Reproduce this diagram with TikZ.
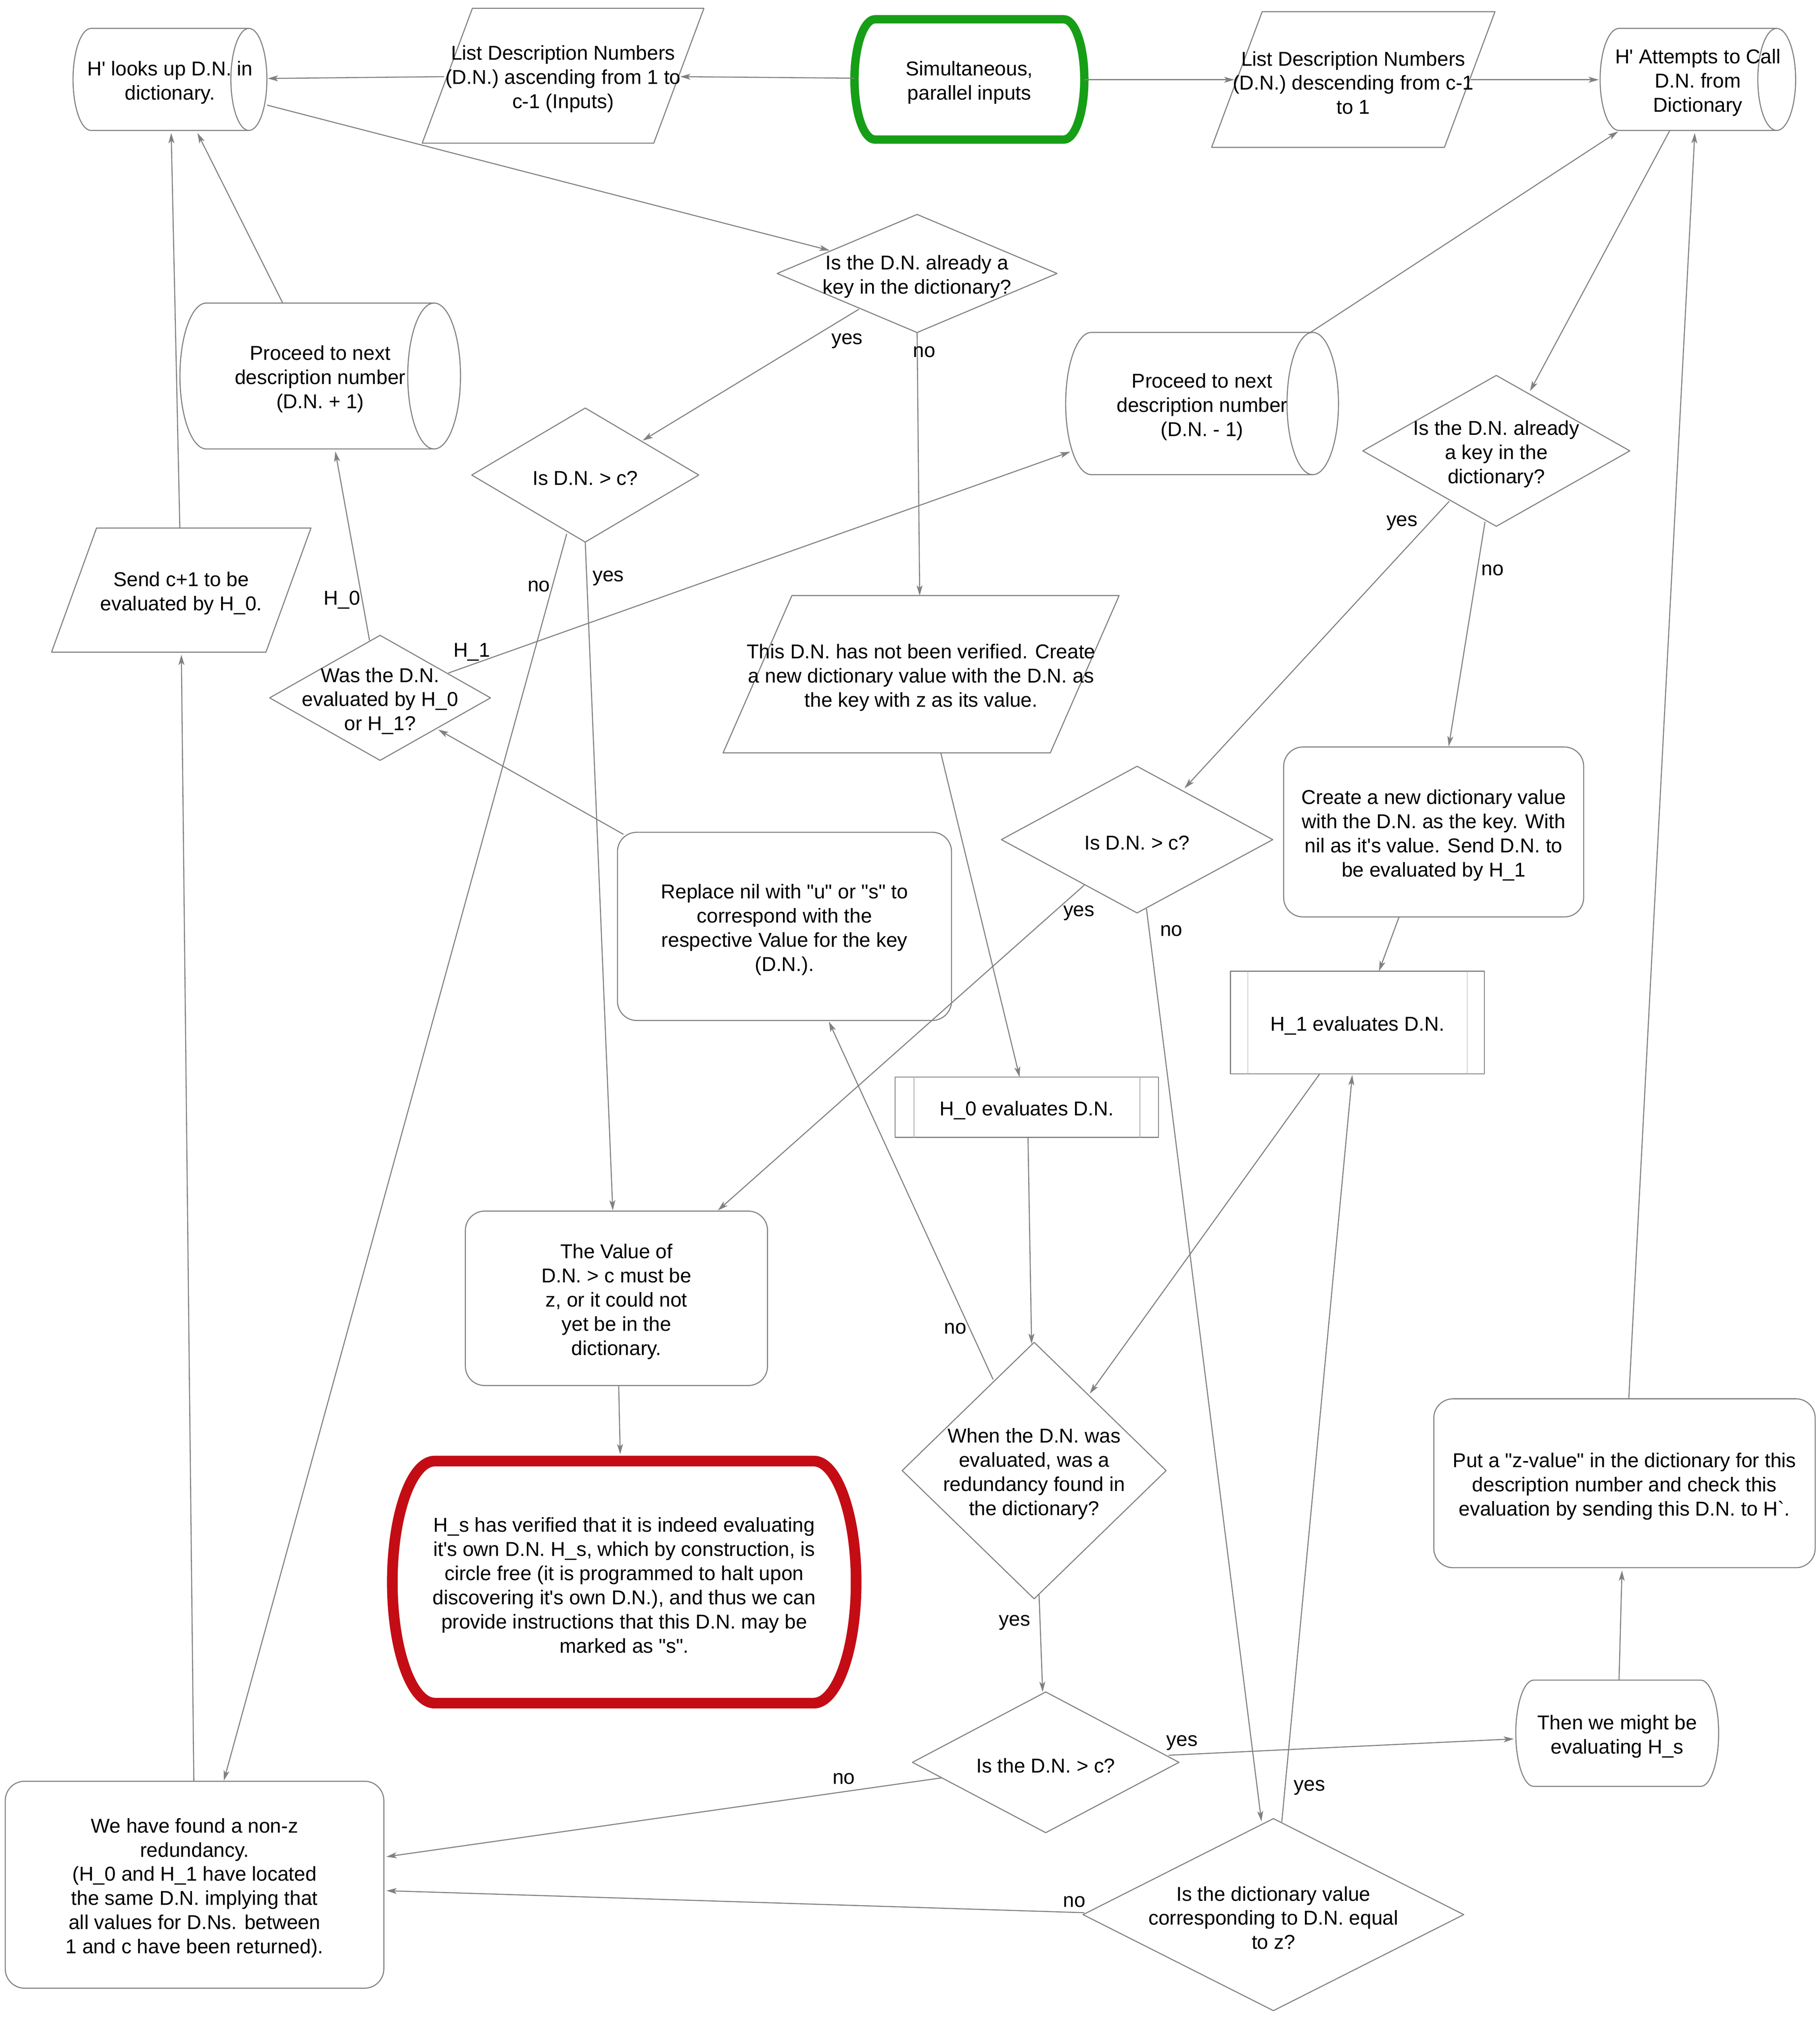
\documentclass[tikz,border=0pt]{standalone}
\usepackage{fontspec}
\setmainfont{Liberation Sans}
\usetikzlibrary{shapes.geometric,arrows.meta,calc}
\definecolor{lc}{RGB}{128,128,128}
\definecolor{ilc}{RGB}{170,170,170}
\definecolor{tgreen}{RGB}{22,158,22}
\definecolor{tred}{RGB}{196,12,20}
\newcommand\dfont{\fontsize{15.6}{18.8}\selectfont}
\newcommand\apos{\textquotesingle}
\newcommand\grv{\textasciigrave}
\newcommand\dq{\textquotedbl}
\tikzset{
  shp/.style={draw=lc, line width=0.8pt, line join=round},
  txt/.style={font=\dfont, align=center, inner sep=0pt, yshift=-2.5pt},
  frame/.style={rectangle, inner sep=0pt, outer sep=0pt},
  dia/.style={shp, diamond, inner sep=0pt, outer sep=0pt},
  box/.style={shp, rectangle, rounded corners=15pt, inner sep=0pt},
  pbox/.style={shp, rectangle, inner sep=0pt},
  inl/.style={draw=ilc, line width=0.6pt},
  conn/.style={draw=lc, line width=0.8pt, -{Stealth[length=8pt,width=4.6pt,inset=2pt]}},
  lbl/.style={font=\dfont, inner sep=0pt, yshift=-2pt},
}
% cylinder: name, xl, xr, yt, yb, rx, ry, text
\newcommand\cyl[8]{%
  \draw[shp] ({#2+#6},#5) arc[start angle=270,end angle=90,x radius=#6pt,y radius=#7pt]
     -- ({#3-#6},#4) arc[start angle=90,end angle=-90,x radius=#6pt,y radius=#7pt] -- cycle;
  \draw[shp] ({#3-#6},#4) arc[start angle=90,end angle=270,x radius=#6pt,y radius=#7pt];
  \node[frame, minimum width={(#3-#2)*1pt}, minimum height={(#5-#4)*1pt}] (#1) at ({(#2+#3)/2},{(#4+#5)/2}) {};
  \node[txt] (#1t) at (#1) {#8};
}
% parallelogram: name, cx, cy, side width, height, slant, text
\newcommand\para[7]{%
  \draw[shp] ({#2-#4/2+#6/2},{#3-#5/2}) -- ({#2+#4/2+#6/2},{#3-#5/2})
     -- ({#2+#4/2-#6/2},{#3+#5/2}) -- ({#2-#4/2-#6/2},{#3+#5/2}) -- cycle;
  \node[frame, minimum width={(#4+#6)*1pt}, minimum height={#5*1pt}] (#1) at (#2,#3) {};
  \node[txt] (#1t) at (#1) {#7};
}
% terminator: name, cx, cy, w, h, rx, ry, style, text
\newcommand\term[9]{%
  \draw[#8] ({#2-#4/2+#6},{#3-#5/2}) -- ({#2+#4/2-#6},{#3-#5/2})
     arc[start angle=90,end angle=-90,x radius=#6pt,y radius=#7pt]
     -- ({#2-#4/2+#6},{#3+#5/2})
     arc[start angle=270,end angle=90,x radius=#6pt,y radius=#7pt] -- cycle;
  \node[frame, minimum width={#4*1pt}, minimum height={#5*1pt}] (#1) at (#2,#3) {};
  \node[txt] (#1t) at (#1) {#9};
}
\begin{document}
\begin{tikzpicture}[x=1pt,y=-1pt]
\fill[white] (0,0) rectangle (1414.8,1568);
\useasboundingbox (0,0) rectangle (1414.8,1568);

% ---------- shapes ----------
\cyl{A}{56.8}{207.5}{22.1}{101.4}{14}{39.65}{H\apos{} looks up D.N. in\\dictionary.}
\para{PGa}{437.75}{58.9}{180}{104.8}{39}{List Description Numbers\\(D.N.) ascending from 1 to\\c-1 (Inputs)}
\term{G}{753.65}{61.75}{178.7}{93.5}{16}{46.75}{draw=tgreen, line width=6.5pt, line join=round}{Simultaneous,\\parallel inputs}
\para{PGb}{1052.1}{61.85}{181}{105.5}{39.3}{List Description Numbers\\(D.N.) descending from c-1\\to 1}
\cyl{B}{1244}{1396}{22.1}{101.4}{14.7}{39.65}{H\apos{} Attempts to Call\\D.N. from\\Dictionary}

\node[dia, minimum width=217.6pt, minimum height=91.8pt] (D1) at (713,212.6) {};
\node[txt] (D1t) at (D1) {Is the D.N. already a\\key in the dictionary?};

\cyl{C1}{139.9}{358}{235.6}{349}{20.5}{56.7}{Proceed to next\\description number\\(D.N. + 1)}
\cyl{C2}{828.5}{1040.6}{258.4}{369}{20}{55.3}{Proceed to next\\description number\\(D.N. - 1)}

\node[dia, minimum width=176.5pt, minimum height=104.2pt] (D2) at (455,369.3) {};
\node[txt] (D2t) at (D2) {Is D.N. > c?};

\node[dia, minimum width=207.6pt, minimum height=117.3pt] (D4) at (1163.3,350.5) {};
\node[txt] (D4t) at (D4) {Is the D.N. already\\a key in the\\dictionary?};

\para{PGc}{140.9}{458.75}{166.7}{96.5}{35}{Send c+1 to be\\evaluated by H\_0.}
\para{PGd}{716.1}{524.15}{254.4}{122.3}{53.5}{This D.N. has not been verified. Create\\a new dictionary value with the D.N. as\\the key with z as its value.}

\node[dia, minimum width=171.7pt, minimum height=97.2pt] (D3) at (295.5,542.5) {};
\node[txt] (D3t) at (D3) {Was the D.N.\\evaluated by H\_0\\or H\_1?};

\node[box, minimum width=233.2pt, minimum height=132.1pt] (R2) at (1114.6,646.75) {};
\node[txt] (R2t) at (R2) {Create a new dictionary value\\with the D.N. as the key. With\\nil as it\apos s value. Send D.N. to\\be evaluated by H\_1};

\node[dia, minimum width=211pt, minimum height=114pt] (D5) at (884,652.7) {};
\node[txt] (D5t) at (D5) {Is D.N. > c?};

\node[box, minimum width=259.7pt, minimum height=146.3pt] (R1) at (609.9,720.15) {};
\node[txt] (R1t) at (R1) {Replace nil with \dq u\dq{} or \dq s\dq{} to\\correspond with the\\respective Value for the key\\(D.N.).};

\node[pbox, minimum width=197.4pt, minimum height=79.9pt] (P2) at (1055.4,794.85) {};
\node[txt] (P2t) at (P2) {H\_1 evaluates D.N.};
\draw[inl] ([xshift=13.8pt]P2.north west) -- ([xshift=13.8pt]P2.south west);
\draw[inl] ([xshift=-13.8pt]P2.north east) -- ([xshift=-13.8pt]P2.south east);

\node[pbox, minimum width=204.8pt, minimum height=46.8pt] (P1) at (798.3,860.7) {};
\node[txt] (P1t) at (P1) {H\_0 evaluates D.N.};
\draw[inl] ([xshift=15pt]P1.north west) -- ([xshift=15pt]P1.south west);
\draw[inl] ([xshift=-15pt]P1.north east) -- ([xshift=-15pt]P1.south east);

\node[box, minimum width=234.9pt, minimum height=135.6pt] (R3) at (479.25,1009.3) {};
\node[txt] (R3t) at (R3) {The Value of\\D.N. > c must be\\z, or it could not\\yet be in the\\dictionary.};

\node[dia, minimum width=205.2pt, minimum height=199.4pt] (D6) at (804,1143.2) {};
\node[txt] (D6t) at (D6) {When the D.N. was\\evaluated, was a\\redundancy found in\\the dictionary?};

\node[box, minimum width=296.5pt, minimum height=131.3pt] (R4) at (1262.95,1153.05) {};
\node[txt] (R4t) at (R4) {Put a \dq z-value\dq{} in the dictionary for this\\description number and check this\\evaluation by sending this D.N. to H\grv.};

\term{Red}{485.3}{1229.9}{360.6}{188.2}{33}{94.1}{draw=tred, line width=8.3pt, line join=round}{H\_s has verified that it is indeed evaluating\\it\apos s own D.N. H\_s, which by construction, is\\circle free (it is programmed to halt upon\\discovering it\apos s own D.N.), and thus we can\\provide instructions that this D.N. may be\\marked as \dq s\dq.}

\term{T}{1257.3}{1347.4}{157.7}{82.6}{14}{41.3}{shp}{Then we might be\\evaluating H\_s}

\node[dia, minimum width=207.2pt, minimum height=109.4pt] (D7) at (813,1370) {};
\node[txt] (D7t) at (D7) {Is the D.N. > c?};

\node[box, minimum width=294.3pt, minimum height=160.9pt] (R5) at (151.25,1465.15) {};
\node[txt] (R5t) at (R5) {We have found a non-z\\redundancy.\\(H\_0 and H\_1 have located\\the same D.N. implying that\\all values for D.Ns. between\\1 and c have been returned).};

\node[dia, minimum width=296pt, minimum height=149.3pt] (D8) at (990,1488.4) {};
\node[txt] (D8t) at (D8) {Is the dictionary value\\corresponding to D.N. equal\\to z?};

% ---------- connectors ----------
\draw[conn] ($(G)+(-89.4,-0.95)$) -- ($(PGa)+(91,0.7)$);
\draw[conn] ($(PGa)+(-92.5,0.7)$) -- ($(A)+(76,-0.75)$);
\draw[conn] ($(G)+(89.35,0.25)$) -- ($(PGb)+(-92.4,0.15)$);
\draw[conn] ($(PGb)+(91.4,0.15)$) -- ($(B)+(-77,0.25)$);
\draw[conn] ($(A)+(75.45,19.95)$) -- ($(D1)+(-68,-17.9)$);
\draw[conn] ($(D1)+(-45.3,27.8)$) -- ($(D2)+(44.6,-26.8)$);
\draw[conn] (D1.south) -- ($(PGd)+(-1.1,-61.15)$);
\draw[conn] ($(D2)+(-14.4,45.7)$) -- ($(R5)+(22.75,-80.9)$);
\draw[conn] (D2.south) -- ($(R3)+(-2.85,-68.3)$);
\draw[conn] ($(D3)+(-8.2,-44.6)$) -- ($(C1)+(11.75,58.7)$);
\draw[conn] ($(D3)+(53.1,-19.3)$) -- ($(C2)+(-102.45,37.5)$);
\draw[conn] ($(C1)+(-29.15,-56.7)$) -- ($(A)+(21.35,41.65)$);
\draw[conn] ($(PGc)+(-1.1,-48.25)$) -- ($(A)+(0.95,41.65)$);
\draw[conn] ($(R5)+(-0.55,-80.45)$) -- ($(PGc)+(0.1,50.25)$);
\draw[conn] ($(R1)+(-125.2,-71.55)$) -- ($(D3)+(45.2,24.7)$);
\draw[conn] ($(PGd)+(15.3,61.15)$) -- ($(P1)+(-5.6,-23.4)$);
\draw[conn] ($(P1)+(0.9,23.4)$) -- ($(D6)+(-2,-98.5)$);
\draw[conn] ($(B)+(-21.8,39.65)$) -- ($(D4)+(26.2,-46.4)$);
\draw[conn] ($(D4)+(-36.6,39.2)$) -- ($(D5)+(36.9,-39.9)$);
\draw[conn] ($(D4)+(-8.8,55.2)$) -- ($(R2)+(11.7,-66.5)$);
\draw[conn] ($(R2)+(-26.9,66.05)$) -- ($(P2)+(16.7,-39.95)$);
\draw[conn] ($(D5)+(-40.7,35.1)$) -- ($(R3)+(78.85,-68.3)$);
\draw[conn] ($(D5)+(7.3,53.7)$) -- ($(D8)+(-9.3,-72.5)$);
\draw[conn] ($(P2)+(-29.4,39.95)$) -- ($(D6)+(43.2,-59.8)$);
\draw[conn] ($(D6)+(-31.9,-70.8)$) -- ($(R1)+(34.5,74)$);
\draw[conn] ($(R3)+(1.75,67.8)$) -- ($(Red)+(-3.1,-99.4)$);
\draw[conn] ($(D6)+(3.8,96.5)$) -- ($(D7)+(-2.4,-54.7)$);
\draw[conn] ($(D7)+(95.5,-5.5)$) -- ($(T)+(-80.3,4.4)$);
\draw[conn] ($(D7)+(-81.2,12.1)$) -- ($(R5)+(149.15,-21.75)$);
\draw[conn] ($(D8)+(-147,-1.5)$) -- ($(R5)+(149.15,4.65)$);
\draw[conn] ($(D8)+(6.5,-72)$) -- ($(P2)+(-4.1,40.85)$);
\draw[conn] ($(T)+(1.4,-41.3)$) -- ($(R4)+(-1.95,67.85)$);
\draw[conn] ($(R4)+(3.35,-65.65)$) -- ($(B)+(-2.4,41.65)$);
\draw[conn] ($(C2)+(84.25,-55.3)$) -- ($(B)+(-62,40.45)$);

% ---------- connector labels ----------
\node[lbl] (l1) at (658.5,263.2) {yes};
\node[lbl] (l2) at (718.6,271.6) {no};
\node[lbl] (l3) at (418.9,453.8) {no};
\node[lbl] (l4) at (472.9,447.4) {yes};
\node[lbl] (l5) at (265.9,464.3) {H\_0};
\node[lbl] (l6) at (366.8,504.8) {H\_1};
\node[lbl] (l7) at (1090,404.5) {yes};
\node[lbl] (l8) at (1160.4,441.3) {no};
\node[lbl] (l9) at (838.8,707.9) {yes};
\node[lbl] (l10) at (910.6,721.7) {no};
\node[lbl] (l11) at (742.7,1030.7) {no};
\node[lbl] (l12) at (788.8,1259.5) {yes};
\node[lbl] (l13) at (919,1352.7) {yes};
\node[lbl] (l14) at (656,1380.7) {no};
\node[lbl] (l15) at (835.3,1476.5) {no};
\node[lbl] (l16) at (1018,1387.5) {yes};
\end{tikzpicture}
\end{document}
